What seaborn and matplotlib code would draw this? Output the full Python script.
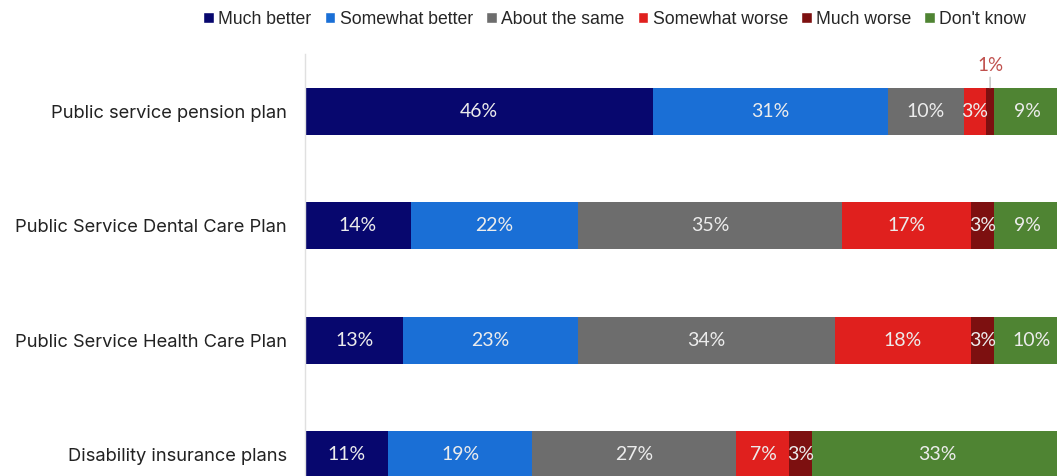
import pandas as pd
import matplotlib.pyplot as plt
import seaborn as sns
from matplotlib.patches import Patch

plans = ["Public service pension plan", "Public Service Dental Care Plan",
         "Public Service Health Care Plan", "Disability insurance plans"]
responses = ["Much better", "Somewhat better", "About the same",
             "Somewhat worse", "Much worse", "Don't know"]
much_better = [46, 14, 13, 11]
somewhat_better = [31, 22, 23, 19]
about_same = [10, 35, 34, 27]
somewhat_worse = [3, 17, 18, 7]
much_worse = [1, 3, 3, 3]
dont_know = [9, 9, 10, 33]

colors = ["#07076e", "#1a6fd6", "#6d6d6d", "#e0201e", "#7d1010", "#4f8433"]

df = pd.DataFrame({"plan": plans, "Much better": much_better,
                   "Somewhat better": somewhat_better, "About the same": about_same,
                   "Somewhat worse": somewhat_worse, "Much worse": much_worse,
                   "Don't know": dont_know})
cum = df[responses].cumsum(axis=1)

sns.set_style("white")
plt.rcParams['font.family'] = ['Inter', 'DejaVu Sans']

fig = plt.figure(figsize=(10.57, 4.76), dpi=100)
ax = fig.add_axes([305 / 1057, -36 / 476, 757 / 1057, 458 / 476])

# stack: draw the longest cumulative first, shorter ones on top
for resp, col in reversed(list(zip(responses, colors))):
    sns.barplot(x=cum[resp], y=df["plan"], orient="h", color=col, width=0.41,
                saturation=1, linewidth=0, ax=ax)

for i, row in df.iterrows():
    for resp in responses:
        v = row[resp]
        mid = cum.loc[i, resp] - v / 2
        if v <= 1:
            ax.annotate(f"{v}%", xy=(mid, i - 0.205), xytext=(mid, i - 0.40),
                        ha="center", va="center", fontsize=13.5, color="#c0504d",
                        family=["Lato", "DejaVu Sans"], zorder=5,
                        arrowprops=dict(arrowstyle="-", color="#b8b8b8", lw=0.9,
                                        shrinkA=0, shrinkB=0))
        else:
            ax.text(mid, i, f"{v}%", ha="center", va="center", fontsize=14,
                    color="#ececec", family=["Lato", "DejaVu Sans"])

ax.set_xlim(0, 100)
ax.set_ylim(3.5, -0.5)
ax.set_xlabel("")
ax.set_ylabel("")
ax.set_xticks([])
ax.tick_params(axis="y", length=0, pad=13, labelsize=13.2, labelcolor="#222222")
for s in ["top", "right", "bottom"]:
    ax.spines[s].set_visible(False)
ax.spines["left"].set_color("#e0e0e0")
ax.spines["left"].set_linewidth(1)

handles = [Patch(facecolor=c, label=r) for r, c in zip(responses, colors)]
fig.legend(handles=handles, loc="upper right", bbox_to_anchor=(0.986, 1.01),
           ncol=6, frameon=False, handlelength=0.6, handleheight=0.6,
           handletextpad=0.25, columnspacing=0.75,
           prop={"family": ["Liberation Sans", "DejaVu Sans"], "size": 12.7})

fig.savefig("out.png", dpi=100)
